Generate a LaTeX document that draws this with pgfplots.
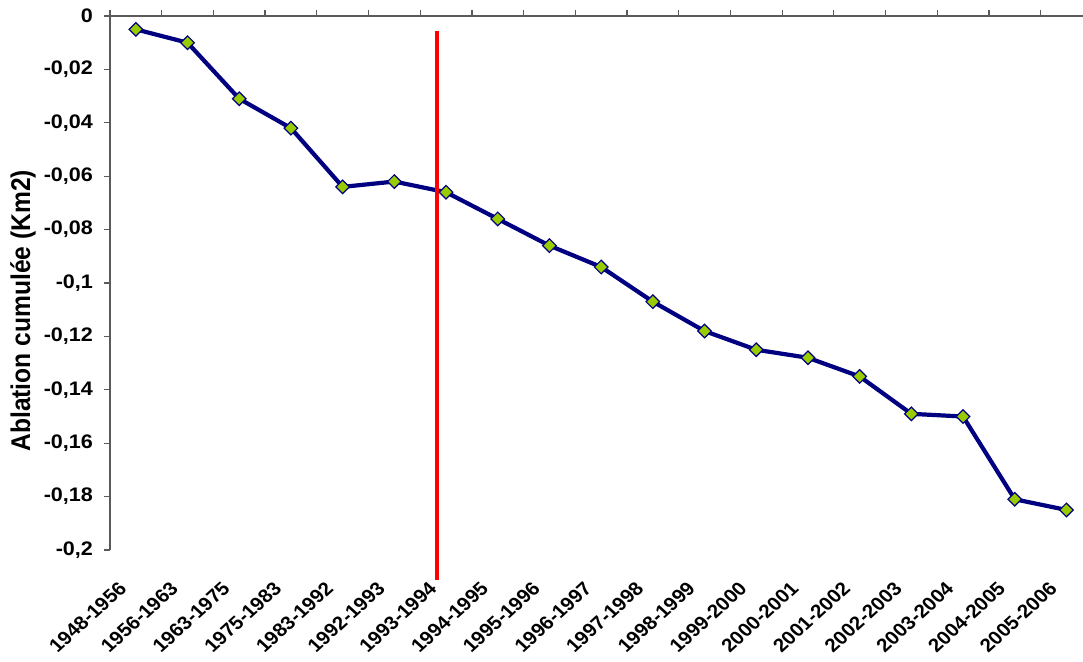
\documentclass[border=0pt]{standalone}
\usepackage{pgfplots}
\pgfplotsset{compat=1.18}
\usepackage{fontspec}
\setmainfont{Liberation Sans}
\newfontfamily\widesans[FakeStretch=1.1]{Liberation Sans}

\definecolor{lineblue}{RGB}{0,0,128}
\definecolor{markgreen}{RGB}{153,204,0}
\definecolor{axisgray}{RGB}{90,90,90}

\pgfplotstableread{
idx val
0  -0.005
1  -0.010
2  -0.031
3  -0.042
4  -0.064
5  -0.062
6  -0.066
7  -0.076
8  -0.086
9  -0.094
10 -0.107
11 -0.118
12 -0.125
13 -0.128
14 -0.135
15 -0.149
16 -0.150
17 -0.181
18 -0.185
}\ablation

\pgfplotsset{
  common/.style={
    at={(0,0)}, anchor=south west,
    scale only axis, width=486.5pt, height=267pt,
    xmin=-0.5, xmax=18.32, ymin=-0.2, ymax=0,
    clip=false,
  }
}

\begin{document}
\begin{tikzpicture}
% category names under the plot area
\begin{axis}[
  common,
  hide y axis,
  axis x line*=bottom,
  x axis line style={draw=none},
  xtick={0,...,18},
  xticklabels={1948-1956,1956-1963,1963-1975,1975-1983,1983-1992,1992-1993,
    1993-1994,1994-1995,1995-1996,1996-1997,1997-1998,1998-1999,1999-2000,
    2000-2001,2001-2002,2002-2003,2003-2004,2004-2005,2005-2006},
  major x tick style={draw=none},
  xticklabel shift=0pt,
  xticklabel style={font=\bfseries\fontsize{9.4}{11}\selectfont,
    inner sep=0pt, anchor=north east, xshift=-9.2pt, yshift=-15pt,
    xscale=1.1, rotate=45},
]
\end{axis}
% main plot: axis line at zero on top, values below
\begin{axis}[
  common,
  axis x line*=top,
  axis y line*=left,
  axis line style={axisgray, line width=0.6pt},
  xtick={-0.5,0.5,...,17.5},
  xticklabels={},
  ytick={-0.2,-0.18,...,0.001},
  tick align=outside,
  major tick length=3pt,
  tick style={axisgray, line width=0.6pt},
  scaled y ticks=false,
  yticklabel style={font=\widesans\bfseries\fontsize{9.8}{12}\selectfont,
    xshift=-2pt,
    /pgf/number format/.cd, fixed, use comma, precision=2, assume math mode=true},
  ylabel={\bfseries\fontsize{12.3}{14}\selectfont Ablation cumulée (Km2)},
  ylabel style={at={(axis description cs:-0.0894,0.448)}, anchor=center,
    rotate=-90, xscale=1.1, rotate=90},
]
\addplot[lineblue, line width=2.1pt, mark=square*, mark size=2.4pt,
  mark options={rotate=45, fill=markgreen, draw=lineblue, line width=0.6pt}]
  table[x=idx, y=val] {\ablation};
\addplot[red, line width=2pt] coordinates {(5.83,-0.0055) (5.83,-0.2112)};
\end{axis}
\pgfresetboundingbox
\path[use as bounding box] (-55pt,-55.5pt) rectangle (486.5pt,275pt);
\end{tikzpicture}
\end{document}
